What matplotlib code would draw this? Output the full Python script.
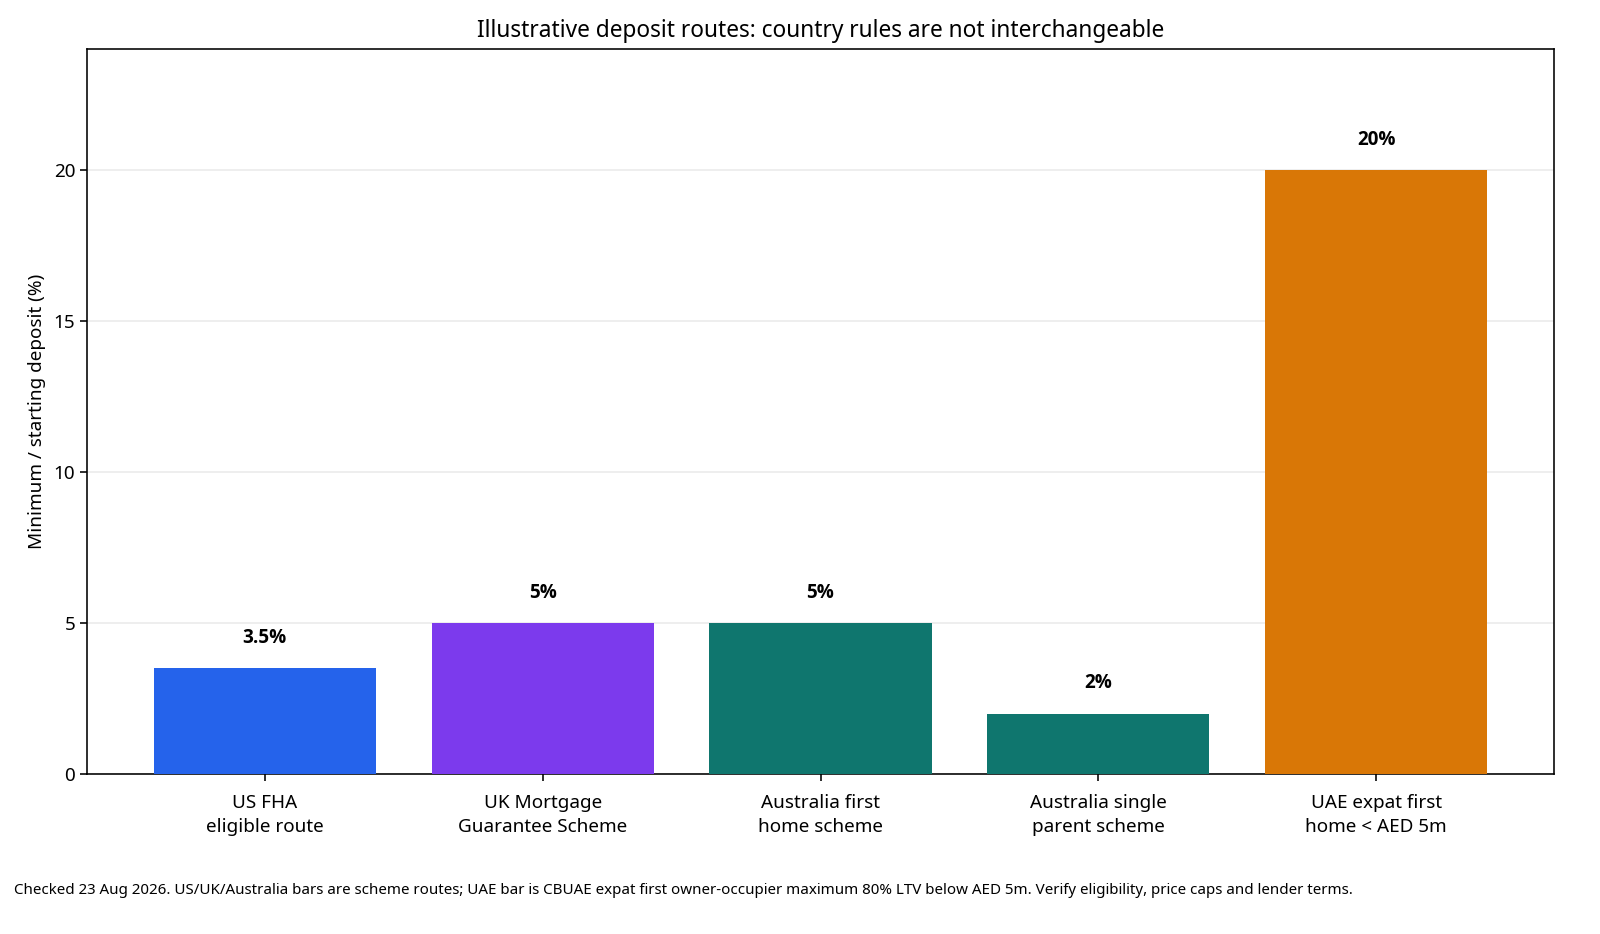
import matplotlib
matplotlib.use("Agg")
import matplotlib.pyplot as plt
from matplotlib import font_manager

categories = ["US FHA\neligible route", "UK Mortgage\nGuarantee Scheme",
              "Australia first\nhome scheme", "Australia single\nparent scheme",
              "UAE expat first\nhome < AED 5m"]
values = [3.5, 5, 5, 2, 20]
value_labels = ["3.5%", "5%", "5%", "2%", "20%"]
colors = ["#2563eb", "#7c3aed", "#0f766e", "#0f766e", "#d97706"]
yticks = [0, 5, 10, 15, 20]

title = "Illustrative deposit routes: country rules are not interchangeable"
ylabel = "Minimum / starting deposit (%)"
footnote = ("Checked 23 Aug 2026. US/UK/Australia bars are scheme routes; UAE bar is CBUAE expat first "
            "owner-occupier maximum 80% LTV below AED 5m. Verify eligibility, price caps and lender terms.")

plt.rcParams['font.family'] = ['Noto Sans', 'DejaVu Sans']
S = 1.36

bold_family = ['Noto Sans', 'DejaVu Sans']
names_bold = {f.name for f in font_manager.fontManager.ttflist if f.weight in (600, 700, 'bold', 'semibold')}
for cand in ['Noto Sans', 'Open Sans', 'DejaVu Sans']:
    if cand in names_bold:
        bold_family = [cand, 'DejaVu Sans']
        break

fig = plt.figure(figsize=(16, 9.34), dpi=100)
ax = fig.add_axes([87/1600, 1-774/934, (1554-87)/1600, (774-49)/934])

x = list(range(len(categories)))
ax.bar(x, values, width=0.8, color=colors, zorder=3)
for xi, v, lab in zip(x, values, value_labels):
    ax.text(xi, v + 1, lab, ha='center', va='center', fontsize=10*S,
            fontweight='bold', family=bold_family, zorder=4)

ax.set_ylim(0, 24)
ax.set_yticks(yticks)
ax.set_xticks(x)
ax.set_xticklabels(categories, fontsize=10*S, linespacing=1.42)
ax.tick_params(axis='y', labelsize=10*S, length=3.5*1.44, width=0.8*1.44)
ax.tick_params(axis='x', length=3.5*1.44, width=0.8*1.44, pad=6.5*1.44)
ax.yaxis.grid(True, color='#ebebeb', linewidth=0.8*1.44, zorder=0)
ax.set_axisbelow(True)
for sp in ax.spines.values():
    sp.set_linewidth(0.8*1.44)

ax.set_title(title, fontsize=12*S, pad=6*1.44)
ax.set_ylabel(ylabel, fontsize=10*S, labelpad=4*1.44)
fig.text(14/1600, 1-891/934, footnote, fontsize=8*S, ha='left', va='center')

fig.savefig("out.png", dpi=100)
